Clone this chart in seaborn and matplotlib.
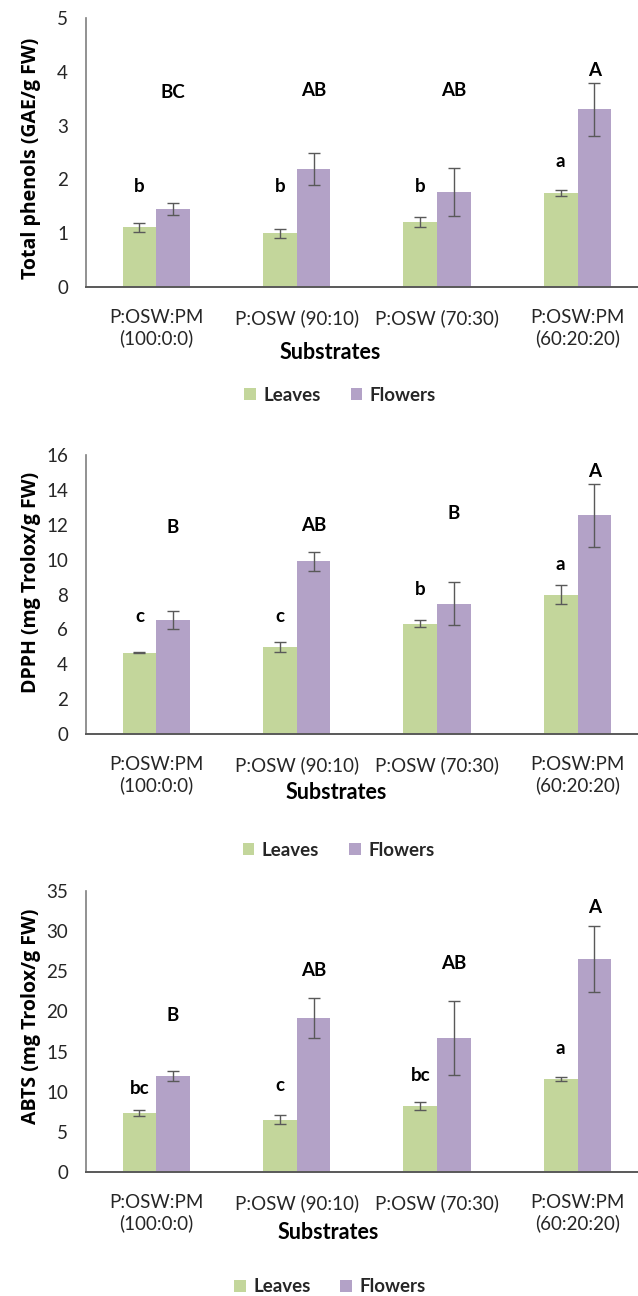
import matplotlib
matplotlib.use("Agg")
import matplotlib.pyplot as plt
from matplotlib.patches import Patch
import seaborn as sns
import pandas as pd

# Substrate treatments (x categories)
substrates = ["P:OSW:PM\n(100:0:0)", "P:OSW (90:10)", "P:OSW (70:30)", "P:OSW:PM\n(60:20:20)"]
parts = ["Leaves", "Flowers"]

# Total phenols (GAE/g FW)
phenols_leaves = [1.11, 1.00, 1.21, 1.75]
phenols_leaves_err = [0.08, 0.08, 0.10, 0.05]
phenols_flowers = [1.45, 2.19, 1.77, 3.30]
phenols_flowers_err = [0.12, 0.30, 0.45, 0.49]
phenols_letters_leaves = ["b", "b", "b", "a"]
phenols_letters_flowers = ["BC", "AB", "AB", "A"]
phenols_letter_y_leaves = [1.87, 1.87, 1.87, 2.34]
phenols_letter_y_flowers = [3.61, 3.65, 3.65, 4.03]

# DPPH (mg Trolox/g FW)
dpph_leaves = [4.65, 5.00, 6.33, 8.00]
dpph_leaves_err = [0.03, 0.28, 0.19, 0.55]
dpph_flowers = [6.53, 9.91, 7.48, 12.55]
dpph_flowers_err = [0.52, 0.55, 1.23, 1.80]
dpph_letters_leaves = ["c", "c", "b", "a"]
dpph_letters_flowers = ["B", "AB", "B", "A"]
dpph_letter_y_leaves = [6.76, 6.76, 8.29, 9.72]
dpph_letter_y_flowers = [11.83, 11.98, 12.63, 15.08]

# ABTS (mg Trolox/g FW)
abts_leaves = [7.35, 6.52, 8.22, 11.54]
abts_leaves_err = [0.35, 0.58, 0.50, 0.27]
abts_flowers = [11.96, 19.18, 16.69, 26.57]
abts_flowers_err = [0.62, 2.50, 4.57, 4.13]
abts_letters_leaves = ["bc", "c", "bc", "a"]
abts_letters_flowers = ["B", "AB", "AB", "A"]
abts_letter_y_leaves = [10.38, 10.79, 12.04, 15.36]
abts_letter_y_flowers = [19.51, 25.11, 26.03, 32.92]

GREEN = "#C3D69B"
PURPLE = "#B3A2C7"
ERR = "#595959"
TEXT = "#262626"

sns.set_style("white")
plt.rcParams["font.family"] = ["Lato", "DejaVu Sans"]

panels = [
    dict(leaves=phenols_leaves, le=phenols_leaves_err, flowers=phenols_flowers, fe=phenols_flowers_err,
         ll=phenols_letters_leaves, lf=phenols_letters_flowers,
         yl=phenols_letter_y_leaves, yf=phenols_letter_y_flowers,
         ylabel="Total phenols (GAE/g FW)", ylim=5, step=1,
         rect=[0.1348, 0.7785, 0.8652, 0.2076], leg=(0.533, 0.6952),
         ylab_y=0.48, xlab=(0.442, -0.245)),
    dict(leaves=dpph_leaves, le=dpph_leaves_err, flowers=dpph_flowers, fe=dpph_flowers_err,
         ll=dpph_letters_leaves, lf=dpph_letters_flowers,
         yl=dpph_letter_y_leaves, yf=dpph_letter_y_flowers,
         ylabel="DPPH (mg Trolox/g FW)", ylim=16, step=2,
         rect=[0.1348, 0.4336, 0.8652, 0.2153], leg=(0.531, 0.3441),
         ylab_y=0.545, xlab=(0.453, -0.208)),
    dict(leaves=abts_leaves, le=abts_leaves_err, flowers=abts_flowers, fe=abts_flowers_err,
         ll=abts_letters_leaves, lf=abts_letters_flowers,
         yl=abts_letter_y_leaves, yf=abts_letter_y_flowers,
         ylabel="ABTS (mg Trolox/g FW)", ylim=35, step=5,
         rect=[0.1348, 0.0957, 0.8652, 0.2168], leg=(0.517, 0.0072),
         ylab_y=0.555, xlab=(0.438, -0.214)),
]

fig = plt.figure(figsize=(6.38, 12.96), dpi=100)

for p in panels:
    ax = fig.add_axes(p["rect"])
    df = pd.DataFrame({
        "Substrate": substrates * 2,
        "Part": [parts[0]] * 4 + [parts[1]] * 4,
        "Value": p["leaves"] + p["flowers"],
    })
    sns.barplot(data=df, x="Substrate", y="Value", hue="Part", order=substrates,
                hue_order=parts, palette=[GREEN, PURPLE], saturation=1,
                width=0.48, errorbar=None, legend=False, ax=ax, linewidth=0)

    errs = [p["le"], p["fe"]]
    letters = [p["ll"], p["lf"]]
    letter_y = [p["yl"], p["yf"]]
    for container, err, lets, ly in zip(ax.containers, errs, letters, letter_y):
        xs = [b.get_x() + b.get_width() / 2 for b in container]
        hs = [b.get_height() for b in container]
        ax.errorbar(xs, hs, yerr=err, fmt="none", ecolor=ERR, elinewidth=1.0,
                    capsize=4, capthick=1.0, zorder=3)
        for x, t, y in zip(xs, lets, ly):
            ax.text(x, y, t, ha="center", va="center", fontsize=13.5,
                    fontweight="bold", color="black")

    ax.set_xlim(-0.5, 3.43)
    ax.set_ylim(0, p["ylim"])
    ax.set_yticks(range(0, p["ylim"] + 1, p["step"]))
    ax.tick_params(axis="both", length=0, labelsize=13.5, colors=TEXT)
    ax.tick_params(axis="y", pad=13)
    ax.tick_params(axis="x", pad=16)
    for lbl in ax.get_xticklabels():
        lbl.set_linespacing(1.2)

    for s in ["top", "right"]:
        ax.spines[s].set_visible(False)
    ax.spines["left"].set_color("#7F7F7F")
    ax.spines["bottom"].set_color("#595959")
    ax.spines["left"].set_linewidth(1.2)
    ax.spines["bottom"].set_linewidth(1.4)

    ax.set_ylabel(p["ylabel"], fontsize=14, fontweight="bold", color="black",
                  family=["Open Sans", "DejaVu Sans"])
    ax.yaxis.set_label_coords(-0.081, p["ylab_y"])
    ax.set_xlabel("Substrates", fontsize=15.5, fontweight="bold", color="black", va="center")
    ax.xaxis.set_label_coords(*p["xlab"])

    handles = [Patch(facecolor=GREEN, edgecolor="none"), Patch(facecolor=PURPLE, edgecolor="none")]
    fig.legend(handles, parts, loc="center", bbox_to_anchor=p["leg"], ncol=2, frameon=False,
               handlelength=0.6, handleheight=0.6, handletextpad=0.4, columnspacing=1.6,
               prop={"family": ["Lato", "DejaVu Sans"], "weight": "bold", "size": 13.5})

fig.savefig("out.png", dpi=100)
